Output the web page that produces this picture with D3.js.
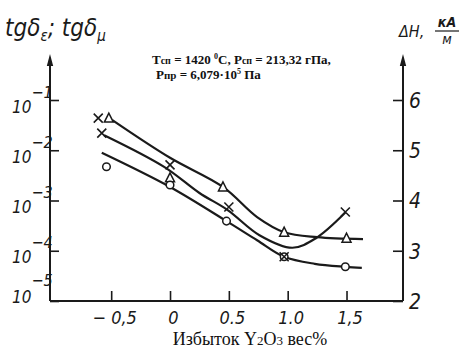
<!DOCTYPE html>
<html><head><meta charset="utf-8">
<script src="https://cdn.jsdelivr.net/npm/d3@7"></script>
<style>
body{margin:0;background:#fff;}
svg{display:block;}
.hand{font-family:"Liberation Sans Narrow","DejaVu Sans Condensed","DejaVu Sans",sans-serif;font-style:italic;fill:#1a1a1a;}
.serif{font-family:"Liberation Serif","DejaVu Serif",serif;fill:#111;}
</style>
</head><body>
<svg id="c" width="460" height="349"></svg>
<script>
// ---- data ----
const xTicks = [-0.5, 0, 0.5, 1.0, 1.5];
const xTickLabels = ["− 0,5", "0", "0.5", "1.0", "1,5"];
const leftTicks = [1e-1, 1e-2, 1e-3, 1e-4, 1e-5];
const leftTickExps = ["−1", "−2", "−3", "−4", "−5"];
const rightTicks = [2, 3, 4, 5, 6];

// tg δε curve (triangles)
const epsLineX = [-0.49, 0, 0.45, 0.74, 0.97, 1.25, 1.64];
const epsLineY = [0.0398, 0.00708, 0.00186, 0.000468, 0.000234, 0.000186, 0.00017];
const epsPtsX = [-0.52, 0, 0.45, 0.97, 1.5];
const epsPtsY = [0.0437, 0.00282, 0.00186, 0.000234, 0.000178];

// tg δμ curve (circles)
const muLineX = [-0.58, 0, 0.48, 0.74, 0.97, 1.23, 1.49, 1.63];
const muLineY = [0.00891, 0.00186, 0.000389, 0.000162, 0.0000759, 0.000055, 0.0000479, 0.0000457];
const muPtsX = [-0.54, 0, 0.48, 0.97, 1.49];
const muPtsY = [0.00468, 0.00204, 0.000389, 0.0000759, 0.0000479];

// ΔH curve (crosses), right axis kA/m
const hLineX = [-0.56, -0.05, 0.25, 0.49, 0.76, 1.04, 1.24, 1.49];
const hLineY = [5.30, 4.67, 4.15, 3.81, 3.31, 3.06, 3.25, 3.76];
const hPtsX = [-0.61, -0.58, 0, 0.5, 0.97, 1.49];
const hPtsY = [5.64, 5.34, 4.71, 3.87, 2.88, 3.77];

// ---- layout ----
const svg = d3.select("#c");
const X0 = 50, X1 = 403, Y0 = 301, Ytop = 100;
const x = d3.scaleLinear().domain([-1.02, 1.98]).range([X0, X1]);
const yL = d3.scaleLog().domain([1e-5, 1e-1]).range([Y0, Ytop]);
const yR = d3.scaleLinear().domain([2, 6]).range([Y0, Ytop]);
const ink = "#1a1a1a";

// bottom axis
const gx = svg.append("g").attr("transform", `translate(0,${Y0})`)
  .call(d3.axisBottom(x).tickValues(xTicks).tickSizeInner(-10).tickSizeOuter(0)
    .tickPadding(10).tickFormat((d,i)=>xTickLabels[i]));
gx.select(".domain").remove();
gx.selectAll("line").attr("stroke", ink).attr("stroke-width", 1.6);
gx.selectAll("text").attr("class","hand").attr("font-size",18).attr("dx",3).attr("fill",ink);
svg.append("line").attr("x1", X0).attr("x2", X1).attr("y1", Y0).attr("y2", Y0)
  .attr("stroke", ink).attr("stroke-width", 2.2);

// left axis
const gl = svg.append("g").attr("transform", `translate(${X0},0)`)
  .call(d3.axisLeft(yL).tickValues(leftTicks).tickSizeInner(-9).tickSizeOuter(0).tickFormat(""));
gl.select(".domain").remove();
gl.selectAll("line").attr("stroke", ink).attr("stroke-width", 1.6);
gl.selectAll(".tick").each(function(d, i){
  const t = d3.select(this).select("text");
  const last = (i === leftTicks.length - 1);
  t.text(null).attr("class","hand").attr("fill",ink).attr("text-anchor","start")
    .attr("x", -38).attr("y", last ? 1 : 12).attr("dy", 0);
  t.append("tspan").attr("font-size", 17).text("10");
  t.append("tspan").attr("font-size", 16).attr("dy", last ? -17 : -15).text(leftTickExps[i]);
});

// right axis
const gr = svg.append("g").attr("transform", `translate(${X1},0)`)
  .call(d3.axisRight(yR).tickValues(rightTicks).tickSizeInner(-10).tickSizeOuter(0)
    .tickPadding(6).tickFormat(d3.format("d")));
gr.select(".domain").remove();
gr.selectAll("line").attr("stroke", ink).attr("stroke-width", 1.6);
gr.selectAll("text").attr("class","hand").attr("font-size",21).attr("fill",ink).attr("dy","0.35em");

// vertical axis lines with arrows
function vAxis(xp){
  svg.append("line").attr("x1", xp).attr("x2", xp).attr("y1", Y0).attr("y2", 60)
    .attr("stroke", ink).attr("stroke-width", 2);
  svg.append("path").attr("d", `M${xp},54 L${xp-3.2},66 L${xp+3.2},66 Z`).attr("fill", ink);
}
vAxis(X0); vAxis(X1);

// curves
const line = (yS) => d3.line().x(d=>x(d[0])).y(d=>yS(d[1])).curve(d3.curveCatmullRom.alpha(0.5));
const z = (a,b) => a.map((v,i)=>[v,b[i]]);
svg.append("path").datum(z(epsLineX, epsLineY)).attr("d", line(yL))
  .attr("fill","none").attr("stroke",ink).attr("stroke-width",2.2);
svg.append("path").datum(z(muLineX, muLineY)).attr("d", line(yL))
  .attr("fill","none").attr("stroke",ink).attr("stroke-width",2.2);
svg.append("path").datum(z(hLineX, hLineY)).attr("d", line(yR))
  .attr("fill","none").attr("stroke",ink).attr("stroke-width",2.2);

// markers
svg.selectAll(".tri").data(z(epsPtsX, epsPtsY)).join("path")
  .attr("transform", d=>`translate(${x(d[0])},${yL(d[1])})`)
  .attr("d", "M0,-5 L-4.5,4 L4.5,4 Z")
  .attr("fill","#fff").attr("stroke",ink).attr("stroke-width",1.5);
svg.selectAll(".circ").data(z(muPtsX, muPtsY)).join("circle")
  .attr("cx", d=>x(d[0])).attr("cy", d=>yL(d[1])).attr("r", 3.8)
  .attr("fill","#fff").attr("stroke",ink).attr("stroke-width",1.5);
svg.selectAll(".crs").data(z(hPtsX, hPtsY)).join("path")
  .attr("transform", d=>`translate(${x(d[0])},${yR(d[1])})`)
  .attr("d", "M-4.5,-4.5 L4.5,4.5 M-4.5,4.5 L4.5,-4.5")
  .attr("fill","none").attr("stroke",ink).attr("stroke-width",1.6);

// axis titles
const tl = svg.append("text").attr("class","hand").attr("x",5).attr("y",36).attr("font-size",24);
tl.append("tspan").text("tgδ");
tl.append("tspan").attr("font-size",15).attr("dy",5).text("ε");
tl.append("tspan").attr("dy",-5).text("; tgδ");
tl.append("tspan").attr("font-size",15).attr("dy",5).text("μ");

svg.append("text").attr("class","hand").attr("x",399).attr("y",37).attr("font-size",16).text("ΔH,");
svg.append("text").attr("class","hand").attr("x",447).attr("y",27).attr("font-size",14)
  .attr("text-anchor","middle").attr("font-weight","bold").text("кА");
svg.append("line").attr("x1",435).attr("x2",459).attr("y1",31).attr("y2",31).attr("stroke",ink).attr("stroke-width",1.2);
svg.append("text").attr("class","hand").attr("x",447).attr("y",44).attr("font-size",14)
  .attr("text-anchor","middle").text("м");

// annotation
const a1 = svg.append("text").attr("class","serif").attr("font-weight","bold").attr("font-size",13)
  .attr("x",152).attr("y",64);
a1.append("tspan").text("Т");
a1.append("tspan").attr("font-size",10).text("сп");
a1.append("tspan").text(" = 1420 ");
a1.append("tspan").attr("font-size",8).attr("dy",-5).text("0");
a1.append("tspan").attr("dy",5).text("С, Р");
a1.append("tspan").attr("font-size",10).text("сп");
a1.append("tspan").text(" = 213,32 гПа,");
const a2 = svg.append("text").attr("class","serif").attr("font-weight","bold").attr("font-size",13)
  .attr("x",156).attr("y",79);
a2.append("tspan").text("Р");
a2.append("tspan").attr("font-size",11).text("пр");
a2.append("tspan").text(" = 6,079·10");
a2.append("tspan").attr("font-size",8).attr("dy",-5).text("5");
a2.append("tspan").attr("dy",5).text(" Па");

// x axis title
const xt = svg.append("text").attr("class","serif").attr("font-size",18)
  .attr("x",250).attr("y",345).attr("text-anchor","middle");
xt.append("tspan").text("Избыток Y");
xt.append("tspan").attr("font-size",13).text("2");
xt.append("tspan").text("O");
xt.append("tspan").attr("font-size",13).text("3");
xt.append("tspan").text(" вес%");
</script>
</body></html>
